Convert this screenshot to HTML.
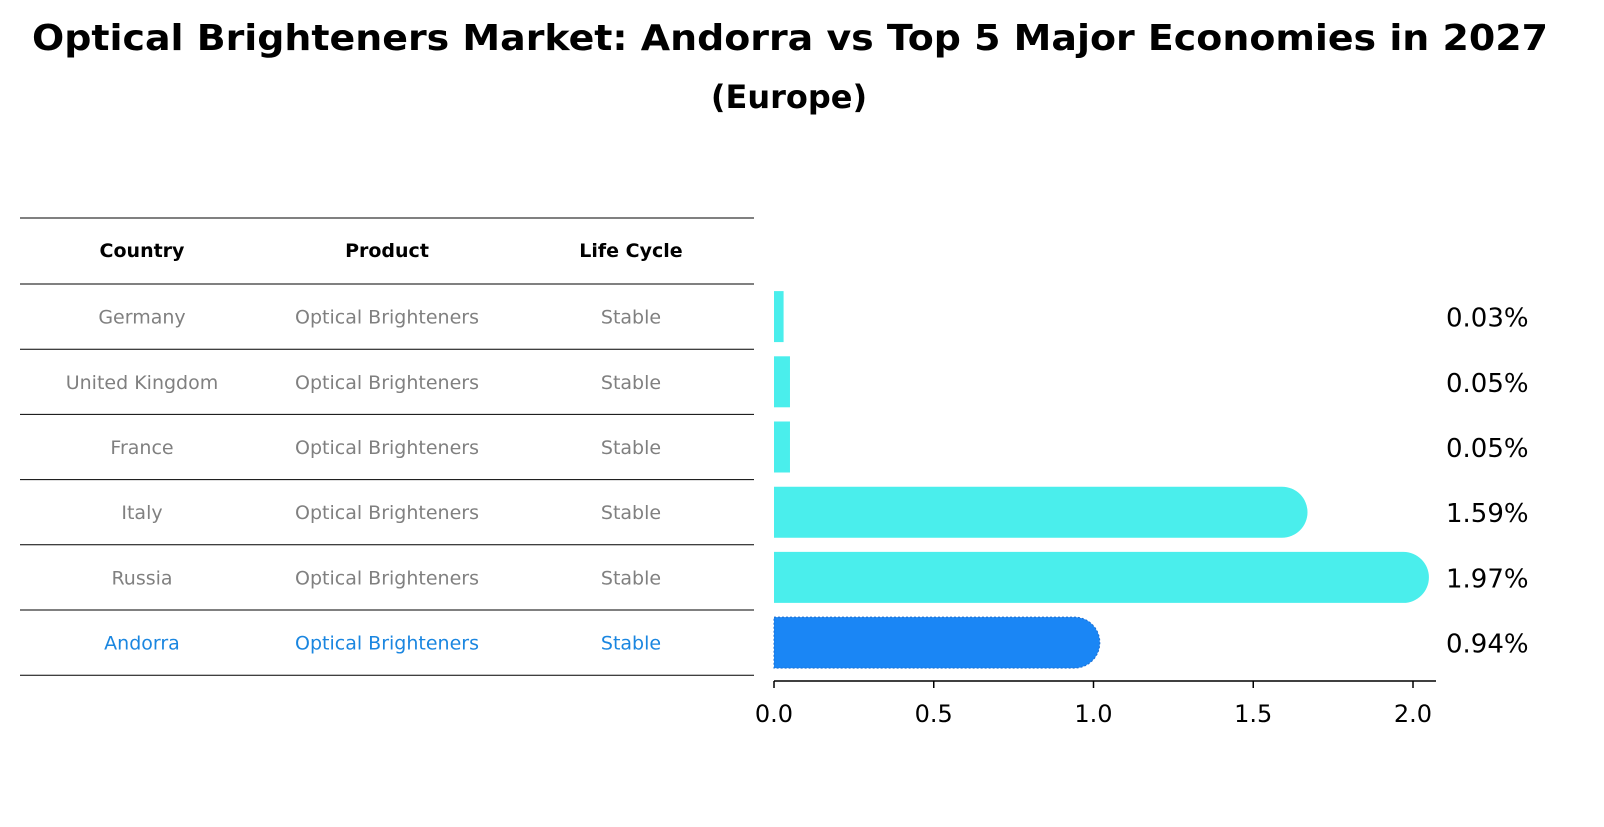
<!DOCTYPE html>
<html><head><meta charset="utf-8"><style>
body{margin:0;background:#fff;font-family:"DejaVu Sans","Liberation Sans",sans-serif}
</style></head><body>
<svg id="c" width="1604" height="823" xmlns="http://www.w3.org/2000/svg">
<text x="790" y="50" text-anchor="middle" font-size="36" font-weight="bold" textLength="1516" lengthAdjust="spacingAndGlyphs" font-family="DejaVu Sans, Liberation Sans, sans-serif">Optical Brighteners Market: Andorra vs Top 5 Major Economies in 2027</text>
<text x="789" y="108" text-anchor="middle" font-size="32" font-weight="bold" font-family="DejaVu Sans, Liberation Sans, sans-serif">(Europe)</text>
<g id="table"></g>
<g id="bars"></g>
</svg>
<script>
const countries=["Germany","United Kingdom","France","Italy","Russia","Andorra"];
const products=["Optical Brighteners","Optical Brighteners","Optical Brighteners","Optical Brighteners","Optical Brighteners","Optical Brighteners"];
const lifeCycles=["Stable","Stable","Stable","Stable","Stable","Stable"];
const values=[0.03,0.05,0.05,1.59,1.97,0.94];
const valueLabels=["0.03%","0.05%","0.05%","1.59%","1.97%","0.94%"];
const ticks=[0,0.5,1.0,1.5,2.0];
const tickLabels=["0.0","0.5","1.0","1.5","2.0"];
const NS="http://www.w3.org/2000/svg";
function mk(t,a,p){const e=document.createElementNS(NS,t);for(const k in a)e.setAttribute(k,a[k]);p.appendChild(e);return e;}
const x0=774,xs=319.5;const X=v=>x0+v*xs;
const rowTop=284,rowH=65.2;const rowY=i=>rowTop+rowH*(i+0.5);
const tb=document.getElementById('table'),bg=document.getElementById('bars');
const cols=[142,387,631];
const FF='DejaVu Sans, Liberation Sans, sans-serif';
const hl=mk('line',{x1:20,x2:754,y1:218,y2:218,stroke:'#000','stroke-width':1},tb);


["Country","Product","Life Cycle"].forEach((h,j)=>{const t=mk('text',{x:cols[j],y:257,'text-anchor':'middle','font-size':19,'font-weight':'bold','font-family':FF},tb);t.textContent=h;

});
countries.forEach((c,i)=>{
 const ly=rowTop+rowH*i;
 const l=mk('line',{x1:20,x2:754,y1:ly,y2:ly,stroke:'#000','stroke-width':1},tb);
 
 
 const col=i===countries.length-1?'#1a86e0':'#808080';
 [c,products[i],lifeCycles[i]].forEach((v,j)=>{const t=mk('text',{x:cols[j],y:rowY(i)+7,'text-anchor':'middle','font-size':19,fill:col,'font-family':FF},tb);t.textContent=v;
 
 });
 const h=51,y=rowY(i)-h/2,w=values[i]*xs,r=h/2;
 const fill=i===countries.length-1?'#1a86f5':'#4aeeec';
 let p;
 if(w>h){p=mk('path',{d:`M${x0},${y}H${x0+w}A${r},${r} 0 0 1 ${x0+w}, ${y+h}H${x0}Z`,fill:fill},bg);}
 else{p=mk('rect',{x:x0,y:y,width:Math.max(w,1),height:h,fill:fill},bg);}
 if(i===countries.length-1){p.setAttribute('stroke','#1f6fd0');p.setAttribute('stroke-dasharray','2,2');}
 
 
 const vt=mk('text',{x:1446,y:rowY(i)+10,'font-size':26,'font-family':FF},bg);vt.textContent=valueLabels[i];
 
 
});
const bl=mk('line',{x1:20,x2:754,y1:rowTop+rowH*6,y2:rowTop+rowH*6,stroke:'#000','stroke-width':1},tb);


const ax=mk('line',{x1:x0,x2:1436,y1:681,y2:681,stroke:'#000','stroke-width':1.5},bg);


ticks.forEach((v,i)=>{const tk=mk('line',{x1:X(v),x2:X(v),y1:681,y2:688,stroke:'#000','stroke-width':1.5},bg);


const t=mk('text',{x:X(v),y:722,'text-anchor':'middle','font-size':24,'font-family':FF},bg);t.textContent=tickLabels[i];

});
</script>
</body></html>
